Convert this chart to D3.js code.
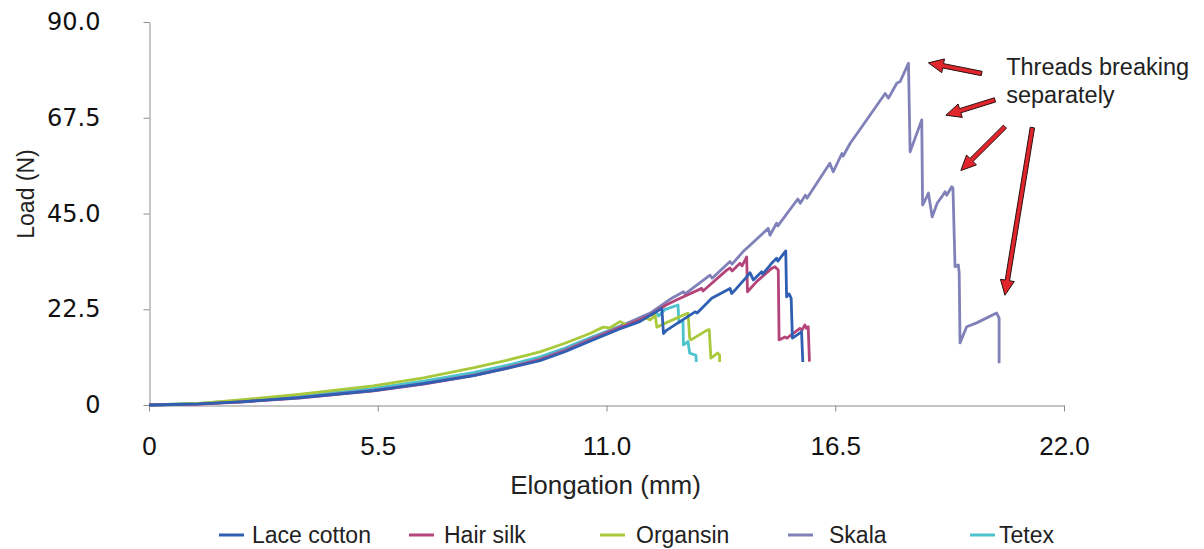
<!DOCTYPE html>
<html>
<head>
<meta charset="utf-8">
<script src="https://cdn.jsdelivr.net/npm/d3@7"></script>
<style>
  body { margin: 0; background: #fff; }
  svg { display: block; }
</style>
</head>
<body>
<div id="chart"></div>
<script>
// tick labels
const xTicks = [0, 5.5, 11, 16.5, 22];
const xTickLabels = ['0', '5.5', '11.0', '16.5', '22.0'];
const yTicks = [0, 22.5, 45, 67.5, 90];
const yTickLabels = ['0', '22.5', '45.0', '67.5', '90.0'];

const seriesNames = ['Lace cotton', 'Hair silk', 'Organsin', 'Skala', 'Tetex'];
const seriesColors = ['#2f5fb3', '#b4457b', '#a8c93b', '#8081b8', '#4cc3cc'];

// [elongation mm, load N]
const laceCotton = [
    [0,0],[1.2,0.25],[2.2,0.75],[3.6,1.7],[5.4,3.4],[6.6,5.0],[7.8,6.9],[8.6,8.6],[9.4,10.4],
    [10.0,12.5],[10.6,15.0],[11.3,17.8],[11.8,19.6],[12.33,22.7],[12.37,16.8],[12.45,17.6],
    [13.13,21.9],[13.18,21.6],[13.53,25.1],[13.97,27.4],[14.01,26.2],[14.09,27.0],[14.37,30.1],
    [14.45,31.1],[14.53,29.4],[14.73,31.3],[14.76,30.8],[14.97,33.3],[15.09,34.5],[15.12,33.8],
    [15.31,36.2],[15.33,25.4],[15.39,26.1],[15.44,25.1],[15.47,15.7],[15.69,17.2],[15.72,10.1]
];
const hairSilk = [
    [0,0],[1.2,0.2],[2.2,0.7],[3.6,1.6],[5.4,3.3],[6.6,4.9],[7.8,6.9],[8.6,8.6],[9.4,10.6],
    [10.0,12.7],[10.6,15.2],[11.3,18.1],[11.8,20.0],[12.05,21.1],[12.43,23.5],[12.77,25.1],
    [13.29,27.4],[13.32,26.8],[13.89,31.7],[13.97,32.2],[14.02,31.5],[14.21,33.3],[14.26,32.7],
    [14.37,34.8],[14.39,26.6],[14.61,29.0],[14.97,32.1],[15.05,32.5],[15.13,31.7],[15.15,15.3],
    [15.29,16.0],[15.34,15.7],[15.65,18.0],[15.70,17.6],[15.77,18.8],[15.81,18.0],[15.85,18.4],
    [15.88,10.2]
];
const organsin = [
    [0,0],[1.2,0.4],[2.19,1.2],[3.6,2.5],[5.39,4.5],[6.6,6.4],[7.79,8.7],[8.6,10.5],[9.4,12.5],
    [10.0,14.5],[10.6,16.8],[10.92,18.3],[11.08,18.1],[11.32,19.6],[11.49,18.8],[11.81,20.0],
    [11.97,20.4],[12.05,20.0],[12.17,21.1],[12.21,18.3],[12.36,19.0],[12.96,21.6],[13.0,15.7],
    [13.03,15.3],[13.42,17.6],[13.47,17.7],[13.51,11.0],[13.67,12.2],[13.72,11.7],[13.72,10.1]
];
const skala = [
    [0,0],[1.2,0.25],[2.2,0.8],[3.6,1.8],[5.4,3.5],[6.6,5.1],[7.8,7.1],[8.6,8.8],[9.4,10.8],
    [10.0,13.0],[10.6,15.5],[11.3,18.4],[12.05,21.6],[12.57,25.1],[12.85,26.6],[12.89,26.1],
    [13.49,30.5],[13.54,29.8],[13.97,33.7],[14.02,33.1],[14.28,36.0],[14.89,41.5],[14.93,39.9],
    [15.09,42.7],[15.12,42.1],[15.60,48.4],[15.66,47.4],[15.78,49.3],[15.82,48.6],[16.37,56.8],
    [16.45,54.8],[16.66,59.1],[16.69,58.5],[16.86,61.5],[17.14,65.4],[17.70,73.2],[17.78,72.1],
    [17.98,75.6],[18.06,76.0],[18.26,80.3],[18.30,59.5],[18.58,67.0],[18.60,47.0],[18.70,48.9],
    [18.74,49.8],[18.83,44.2],[18.95,47.4],[19.06,48.9],[19.14,50.1],[19.18,49.3],[19.30,51.3],
    [19.33,51.0],[19.38,32.5],[19.46,32.9],[19.48,31.0],[19.50,14.6],[19.66,18.4],[19.90,19.3],
    [20.38,21.6],[20.44,20.4],[20.44,9.8]
];
const tetex = [
    [0,0],[1.2,0.35],[2.19,1.0],[3.6,2.1],[5.39,3.9],[6.6,5.6],[7.79,7.6],[8.6,9.3],[9.4,11.3],
    [10.0,13.4],[10.6,15.8],[11.32,18.5],[12.05,21.2],[12.2,21.8],[12.25,20.9],[12.4,22.4],
    [12.72,23.5],[12.74,19.4],[12.84,19.7],[12.85,14.1],[12.96,14.9],[13.0,12.2],[13.15,11.7],
    [13.16,10.1]
];

// annotation arrows: [tail, tip] in data units
const annotationText = ['Threads breaking', 'separately'];
const arrows = [
    [[20.02,77.9],[18.74,80.4]],
    [[20.34,71.7],[19.16,68.1]],
    [[20.58,65.4],[19.52,55.1]],
    [[21.24,65.2],[20.58,25.8]]
];

const W = 1204, H = 549;
const svg = d3.select('#chart').append('svg')
    .attr('width', W)
    .attr('height', H);

const x = d3.scaleLinear().domain([0, 22]).range([149, 1064]);
const y = d3.scaleLinear().domain([0, 90]).range([405, 22]);

const axisColor = '#8c8c8c';

// y axis
const yAxis = svg.append('g')
    .attr('transform', 'translate(149.5,0)')
    .call(d3.axisLeft(y)
        .tickValues(yTicks)
        .tickFormat((d, i) => yTickLabels[i])
        .tickSize(6)
        .tickSizeOuter(0)
        .tickPadding(43));
yAxis.select('.domain').attr('stroke', axisColor);
yAxis.selectAll('.tick line').attr('stroke', axisColor);
yAxis.selectAll('text')
    .style('font-family', '"DejaVu Sans", sans-serif')
    .style('font-size', '24px')
    .attr('fill', '#111');

// x axis
const xAxis = svg.append('g')
    .attr('transform', 'translate(0,405.5)')
    .call(d3.axisBottom(x)
        .tickValues(xTicks)
        .tickFormat((d, i) => xTickLabels[i])
        .tickSize(6)
        .tickSizeOuter(0)
        .tickPadding(25));
xAxis.select('.domain').attr('stroke', axisColor);
xAxis.selectAll('.tick line').attr('stroke', axisColor);
xAxis.selectAll('text')
    .style('font-family', '"Liberation Sans", sans-serif')
    .style('font-size', '26px')
    .attr('fill', '#111');

// axis titles
svg.append('text')
    .attr('x', x(11) - 1)
    .attr('y', 494)
    .attr('text-anchor', 'middle')
    .style('font-family', '"Liberation Sans", sans-serif')
    .style('font-size', '26px')
    .attr('fill', '#222')
    .text('Elongation (mm)');

svg.append('text')
    .attr('transform', 'translate(34,194) rotate(-90)')
    .attr('text-anchor', 'middle')
    .style('font-family', '"Liberation Sans", sans-serif')
    .style('font-size', '23px')
    .attr('fill', '#222')
    .text('Load (N)');

// series
const allSeries = [laceCotton, hairSilk, organsin, skala, tetex];
const line = d3.line().x(d => x(d[0])).y(d => y(d[1]));

const order = [4, 3, 2, 1, 0];
svg.append('g')
    .selectAll('path.series')
    .data(order)
    .enter()
    .append('path')
    .attr('class', 'series')
    .attr('d', i => line(allSeries[i]))
    .attr('fill', 'none')
    .attr('stroke', i => seriesColors[i])
    .attr('stroke-width', 2.8)
    .attr('stroke-linejoin', 'round');

// legend
const legendX = [219, 409, 600, 788, 970];
const legendTextX = [252, 444, 636, 829, 999];
const legendY = 535;
const lg = svg.append('g');
seriesNames.forEach((name, i) => {
    lg.append('line')
        .attr('x1', legendX[i])
        .attr('x2', legendX[i] + 25)
        .attr('y1', legendY)
        .attr('y2', legendY)
        .attr('stroke', seriesColors[i])
        .attr('stroke-width', 3);
    lg.append('text')
        .attr('x', legendTextX[i])
        .attr('y', legendY + 8)
        .style('font-family', '"Liberation Sans", sans-serif')
        .style('font-size', '23px')
        .attr('fill', '#222')
        .text(name);
});

// annotation
const arrowShape = (tail, tip) => {
    const x1 = x(tail[0]), y1 = y(tail[1]);
    const x2 = x(tip[0]), y2 = y(tip[1]);
    const dx = x2 - x1, dy = y2 - y1;
    const len = Math.sqrt(dx * dx + dy * dy);
    const ux = dx / len, uy = dy / len;
    const nx = -uy, ny = ux;
    const headLen = 15, headW = 7, shaftW = 2.2;
    const bx = x2 - ux * headLen, by = y2 - uy * headLen;
    const pts = [
        [x1 + nx * shaftW, y1 + ny * shaftW],
        [bx + nx * shaftW, by + ny * shaftW],
        [bx + nx * headW, by + ny * headW],
        [x2, y2],
        [bx - nx * headW, by - ny * headW],
        [bx - nx * shaftW, by - ny * shaftW],
        [x1 - nx * shaftW, y1 - ny * shaftW]
    ];
    return pts.map(p => p.join(',')).join(' ');
};

svg.append('g')
    .selectAll('polygon')
    .data(arrows)
    .enter()
    .append('polygon')
    .attr('points', d => arrowShape(d[0], d[1]))
    .attr('fill', '#e0262c')
    .attr('stroke', '#2a1010')
    .attr('stroke-width', 1)
    .attr('stroke-linejoin', 'miter');

annotationText.forEach((t, i) => {
    svg.append('text')
        .attr('x', x(20.61))
        .attr('y', y(77.5) + i * 28)
        .style('font-family', '"Liberation Sans", sans-serif')
        .style('font-size', '23.5px')
        .attr('fill', '#222')
        .text(t);
});
</script>
</body>
</html>
